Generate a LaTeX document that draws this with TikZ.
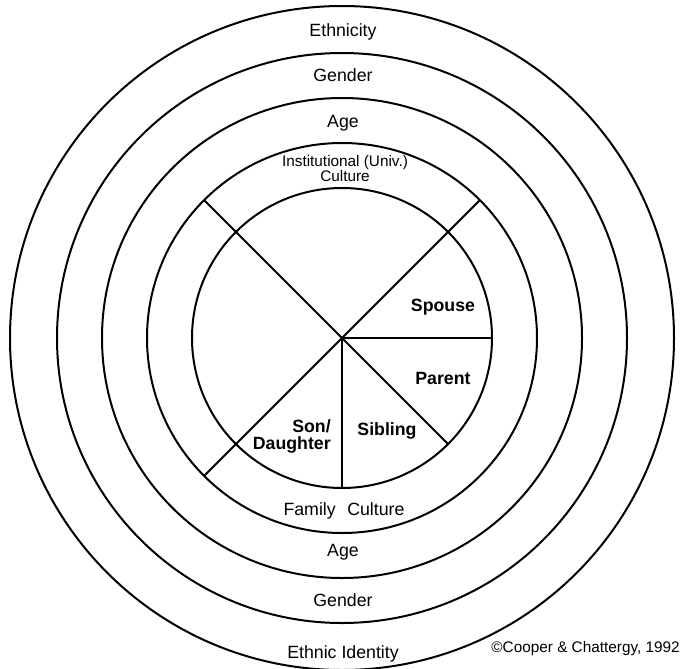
\documentclass[tikz,border=0pt]{standalone}
\usepackage{fontspec}
\setmainfont{Liberation Sans}
\usepackage{tikz}

\begin{document}
\begin{tikzpicture}[x=0.75pt,y=0.75pt,yscale=-1,xscale=1,
		ring/.style={line width=1.5pt},
		spoke/.style={line width=1.5pt},
		lbl/.style={anchor=base,inner sep=0.75pt,font=\fontsize{13.3}{14}\selectfont},
		small/.style={anchor=base,inner sep=0.75pt,font=\fontsize{11.5}{12}\selectfont},
		role/.style={anchor=base,inner sep=0.75pt,font=\fontsize{13.3}{14}\selectfont\bfseries}]
		\useasboundingbox (0,0) rectangle (682,668);
		\coordinate (c) at (342,338);
		
		%Shape: Circle
		\draw [ring] (c) circle [radius=150];
		%Shape: Circle
		\draw [ring] (c) circle [radius=195];
		%Shape: Circle
		\draw [ring] (c) circle [radius=240];
		%Shape: Circle
		\draw [ring] (c) circle [radius=285];
		%Shape: Circle
		\draw [ring] (c) circle [radius=332];
		
		%Straight Lines
		\draw [spoke] (c) -- ++(-137.9,-137.9) coordinate (ul);
		%Straight Lines
		\draw [spoke] (c) -- ++(137.9,-137.9) coordinate (ur);
		%Straight Lines
		\draw [spoke] (c) -- ++(-137.9,137.9) coordinate (dl);
		%Straight Lines
		\draw [spoke] (c) -- ++(106.1,106.1) coordinate (dr);
		%Straight Lines
		\draw [spoke] (c) -- ++(150,0) coordinate (r);
		%Straight Lines
		\draw [spoke] (c) -- ++(0,150) coordinate (d);
		
		% Text Node
		\draw (343,36) node [lbl] (eth) {Ethnicity};
		% Text Node
		\draw (343,81.5) node [lbl] (gen) {Gender};
		% Text Node
		\draw (343,127) node [lbl] (age) {Age};
		% Text Node
		\draw (345,168.5) node [small,anchor=center,inner sep=0pt,align=center,font=\fontsize{11.5}{8.8}\selectfont] (inst) {Institutional (Univ.)\\Culture};
		% Text Node
		\draw (443,311.5) node [role] (spouse) {Spouse};
		% Text Node
		\draw (443,384) node [role] (parent) {Parent};
		% Text Node
		\draw (387,435) node [role] (sib) {Sibling};
		% Text Node
		\draw (332,432) node [role,anchor=base east] (son) {Son/};
		% Text Node
		\draw (332,449.5) node [role,anchor=base east] (dau) {Daughter};
		% Text Node
		\draw (344,515) node [lbl] (fam) {Family\hspace{0.65em}Culture};
		% Text Node
		\draw (343,556.7) node [lbl] (age2) {Age};
		% Text Node
		\draw (343,606.7) node [lbl] (gen2) {Gender};
		% Text Node
		\draw (343,658) node [lbl] (ethid) {Ethnic Identity};
		% Text Node
		\draw (681,652.7) node [small,anchor=base east] (copy) {©Cooper \& Chattergy, 1992};
		
\end{tikzpicture}
\end{document}
